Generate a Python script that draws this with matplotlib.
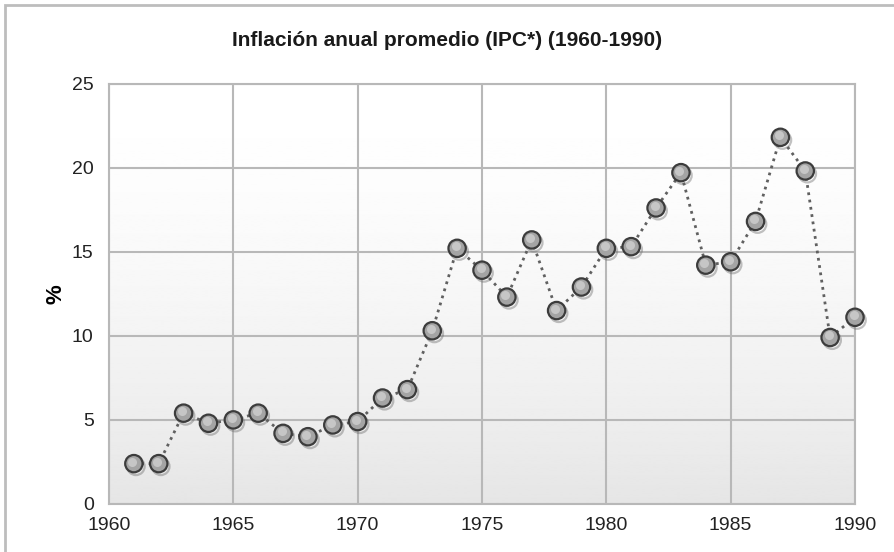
import numpy as np
import matplotlib
matplotlib.use("Agg")
import matplotlib.pyplot as plt
import matplotlib.patheffects as pe
from matplotlib.patches import Rectangle

# Inflacion anual promedio
years = [1961, 1962, 1963, 1964, 1965, 1966, 1967, 1968, 1969, 1970,
         1971, 1972, 1973, 1974, 1975, 1976, 1977, 1978, 1979, 1980,
         1981, 1982, 1983, 1984, 1985, 1986, 1987, 1988, 1989, 1990]
inflation = [2.4, 2.4, 5.4, 4.8, 5.0, 5.4, 4.2, 4.0, 4.7, 4.9,
             6.3, 6.8, 10.3, 15.2, 13.9, 12.3, 15.7, 11.5, 12.9, 15.2,
             15.3, 17.6, 19.7, 14.2, 14.4, 16.8, 21.8, 19.8, 9.9, 11.1]
xticks = [1960, 1965, 1970, 1975, 1980, 1985, 1990]
yticks = [0, 5, 10, 15, 20, 25]

plt.rcParams['font.family'] = ['Liberation Sans', 'DejaVu Sans']

fig = plt.figure(figsize=(8.95, 5.52), dpi=100)
ax = fig.add_axes([109/895, 1 - 504/552, (855-109)/895, (504-83.5)/552])

# outer frame (only top and left edges are visible)
fig.patches.append(Rectangle((5/895, -0.1), 1.2, 1 - 5/552 + 0.1,
                             transform=fig.transFigure, fill=False,
                             edgecolor='#bdbdbd', lw=2.0))

# background gradient: white at top, light gray at bottom
grad = np.linspace(0, 1, 256).reshape(-1, 1)
img = 1.0 - 0.10 * grad ** 1.6
ax.imshow(img, cmap='gray', vmin=0, vmax=1, aspect='auto',
          extent=[1960, 1990, 0, 25], origin='upper', zorder=0)

ax.set_xlim(1960, 1990)
ax.set_ylim(0, 25)
ax.set_xticks(xticks)
ax.set_yticks(yticks)
ax.grid(True, color='#b8b8b8', lw=1.5, zorder=1)
for s in ax.spines.values():
    s.set_color('#b8b8b8')
    s.set_linewidth(1.5)
ax.tick_params(length=0, labelsize=14, colors='#222222')
ax.tick_params(axis='y', pad=11)
ax.tick_params(axis='x', pad=9)

ax.plot(years, inflation, ls=':', color='#606060', lw=2.0, zorder=2)
ax.plot(years, inflation, ls='none', marker='o', ms=12.5,
        mfc='#a4a4a4', mec='#3c3c3c', mew=1.6, zorder=3, clip_on=False,
        path_effects=[pe.SimpleLineShadow(offset=(1.5, -2), shadow_color='#666666', alpha=0.4),
                      pe.Normal()])
# highlight on the markers
ax.plot(np.array(years) - 0.06, np.array(inflation) + 0.12, ls='none', marker='o', ms=6.5,
        mfc='#cfcfcf', mec='none', alpha=0.8, zorder=4, clip_on=False)

ax.set_ylabel('%', fontsize=16, fontweight='bold', labelpad=4)
fig.text(0.5, 1 - 41/552, 'Inflación anual promedio (IPC*) (1960-1990)',
         ha='center', va='center', fontsize=15, fontweight='bold', color='#1a1a1a')

fig.savefig('out.png', dpi=100)
